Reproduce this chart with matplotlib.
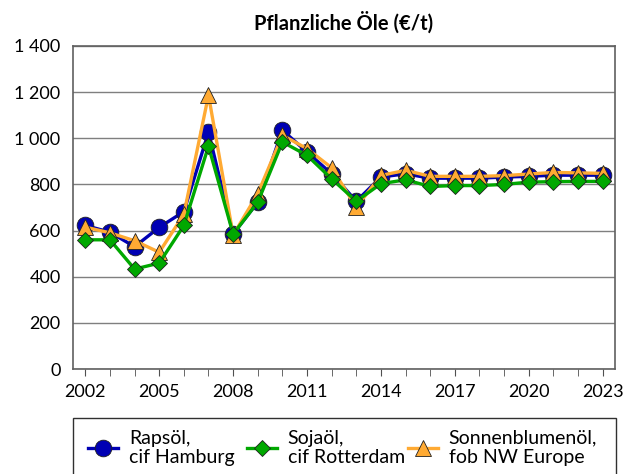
import numpy as np
import matplotlib.pyplot as plt
from matplotlib.patches import Rectangle
from matplotlib.ticker import FuncFormatter

plt.rcParams['font.family'] = ['Lato', 'DejaVu Sans']

years = list(range(2002, 2024))
raps = [622, 593, 530, 614, 682, 1027, 585, 723, 1035, 940, 846, 727,
        832, 846, 827, 827, 827, 832, 835, 840, 840, 840]
soja = [560, 560, 433, 459, 622, 966, 585, 723, 984, 926, 824, 727,
        803, 820, 791, 795, 795, 800, 810, 812, 813, 813]
sonne = [615, 590, 556, 506, 670, 1187, 580, 760, 1013, 955, 872, 701,
         839, 861, 835, 835, 835, 838, 845, 852, 850, 848]
labels = ['Rapsöl,\ncif Hamburg', 'Sojaöl,\ncif Rotterdam',
          'Sonnenblumenöl,\nfob NW Europe']

fig = plt.figure(figsize=(6.31, 4.74), dpi=100)
ax = fig.add_axes([0.1157, 0.2215, 0.8589, 0.6815])

l1, = ax.plot(years, raps, color='#0000B4', lw=2.4, marker='o', ms=12,
              mfc='#0000B4', mec='#202020', mew=0.6, zorder=3)
l2, = ax.plot(years, soja, color='#00A800', lw=2.4, marker='D', ms=8.3,
              mfc='#00A800', mec='#202020', mew=0.6, zorder=5)
l3, = ax.plot(years, sonne, color='#FFAA33', lw=2.4, marker='^', ms=12,
              mfc='#FFAA33', mec='#202020', mew=0.6, zorder=4)

ax.set_xlim(2001.5, 2023.5)
ax.set_ylim(0, 1400)
ax.set_yticks(np.arange(0, 1401, 200))
ax.yaxis.set_major_formatter(FuncFormatter(lambda v, p: f'{int(v):,}'.replace(',', ' ')))
ax.set_xticks(years, minor=True)
ax.set_xticks(range(2002, 2024, 3))
ax.tick_params(axis='y', length=0, labelsize=13, pad=9)
ax.tick_params(axis='x', which='both', direction='out', length=5,
               color='#505050', labelsize=13, pad=6)
ax.grid(axis='y', color='#7f7f7f', lw=1)
ax.set_axisbelow(True)
for s in ax.spines.values():
    s.set_color('#606060')
    s.set_linewidth(1.2)

ax.set_title('Pflanzliche Öle (€/t)', fontsize=14.5, fontweight='bold', pad=12)

# legend frame, one entry per column
fig.add_artist(Rectangle((0.1157, -0.01), 0.8605, 0.128, transform=fig.transFigure,
                         fill=False, edgecolor='#303030', lw=1))
for h, lab, x in zip([l1, l2, l3], labels, [0.1395, 0.3914, 0.6466]):
    fig.legend([h], [lab], loc='center left', bbox_to_anchor=(x, 0.0549),
               frameon=False, fontsize=14, handlelength=1.55, handletextpad=0.55,
               borderpad=0, borderaxespad=0)

fig.savefig('out.png', dpi=100)
